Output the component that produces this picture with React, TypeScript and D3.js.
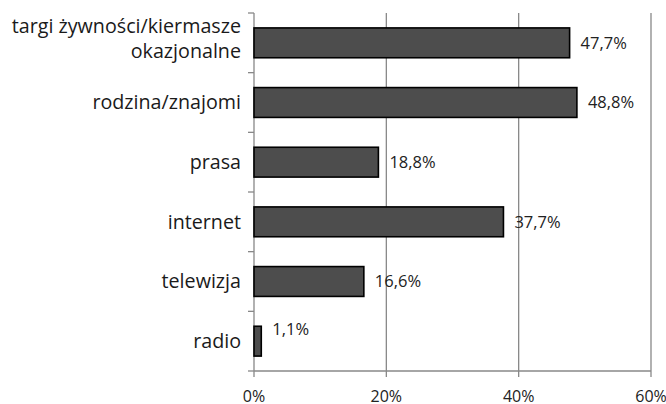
import React, { useEffect, useRef } from 'react';
import * as d3 from 'd3';

const categories = [
  ['targi żywności/kiermasze', 'okazjonalne'],
  ['rodzina/znajomi'],
  ['prasa'],
  ['internet'],
  ['telewizja'],
  ['radio'],
];
const values = [47.7, 48.8, 18.8, 37.7, 16.6, 1.1];
const xTicks = [0, 20, 40, 60];

const W = 666;
const H = 404;
const margin = { top: 13, right: 15, bottom: 33, left: 254 };
const font = '"Open Sans", sans-serif';

export default function App() {
  const ref = useRef<SVGSVGElement>(null);

  useEffect(() => {
    const svg = d3.select(ref.current);
    svg.selectAll('*').remove();

    const width = W - margin.left - margin.right;
    const height = H - margin.top - margin.bottom;

    const x = d3.scaleLinear().domain([0, 60]).range([0, width]);
    const keys = categories.map((c, i) => String(i));
    const y = d3.scaleBand().domain(keys).range([0, height]).paddingInner(0.5).paddingOuter(0.25);

    const g = svg.append('g').attr('transform', `translate(${margin.left},${margin.top})`);

    // gridlines
    g.selectAll('.grid')
      .data(xTicks.slice(1))
      .enter()
      .append('line')
      .attr('x1', d => x(d))
      .attr('x2', d => x(d))
      .attr('y1', 0)
      .attr('y2', height)
      .attr('stroke', '#888')
      .attr('stroke-width', 1.3);

    // x axis
    const xa = g.append('g').attr('transform', `translate(0,${height})`);
    xa.append('line').attr('x1', 0).attr('x2', x(60)).attr('stroke', '#888').attr('stroke-width', 1.3);
    xTicks.forEach(t => {
      xa.append('line').attr('x1', x(t)).attr('x2', x(t)).attr('y1', 0).attr('y2', 6)
        .attr('stroke', '#888').attr('stroke-width', 1.3);
      xa.append('text')
        .attr('x', x(t))
        .attr('y', 30.5)
        .attr('text-anchor', 'middle')
        .attr('font-family', font)
        .attr('font-size', 16)
        .attr('fill', '#222')
        .text(t + '%');
    });

    // y axis
    g.append('line').attr('x1', 0).attr('x2', 0).attr('y1', 0).attr('y2', height)
      .attr('stroke', '#888').attr('stroke-width', 1.3);
    const step = height / categories.length;
    for (let i = 0; i <= categories.length; i++) {
      g.append('line').attr('x1', -6).attr('x2', 0).attr('y1', i * step).attr('y2', i * step)
        .attr('stroke', '#888').attr('stroke-width', 1.3);
    }

    // category labels
    categories.forEach((lines, i) => {
      const cy = y(String(i))! + y.bandwidth() / 2;
      const lh = 25.5;
      const shift = lines.length > 1 ? -4 : 0;
      const t = g.append('text')
        .attr('text-anchor', 'end')
        .attr('font-family', font)
        .attr('font-size', 19.7)
        .attr('fill', '#1a1a1a');
      lines.forEach((ln, j) => {
        t.append('tspan')
          .attr('x', -13)
          .attr('y', cy + shift + (j - (lines.length - 1) / 2) * lh)
          .attr('dy', '0.35em')
          .text(ln);
      });
    });

    // bars
    g.selectAll('.bar')
      .data(values)
      .enter()
      .append('rect')
      .attr('x', 0)
      .attr('y', (d, i) => y(String(i))!)
      .attr('width', d => x(d))
      .attr('height', y.bandwidth())
      .attr('fill', '#4d4d4d')
      .attr('stroke', '#000')
      .attr('stroke-width', 1.6);

    // value labels (Excel pushed the tiny one upwards)
    g.selectAll('.lbl')
      .data(values)
      .enter()
      .append('text')
      .attr('x', d => x(d) + 11)
      .attr('y', (d, i) => y(String(i))! + y.bandwidth() / 2 + (d < 5 ? -12 : 0))
      .attr('dy', '0.35em')
      .attr('font-family', font)
      .attr('font-size', 16.5)
      .attr('fill', '#222')
      .text(d => d.toFixed(1).replace('.', ',') + '%');
  }, []);

  return (
    <svg
      ref={ref}
      width={W}
      height={H}
      style={{ position: 'absolute', left: 0, top: 0, display: 'block' }}
    />
  );
}
